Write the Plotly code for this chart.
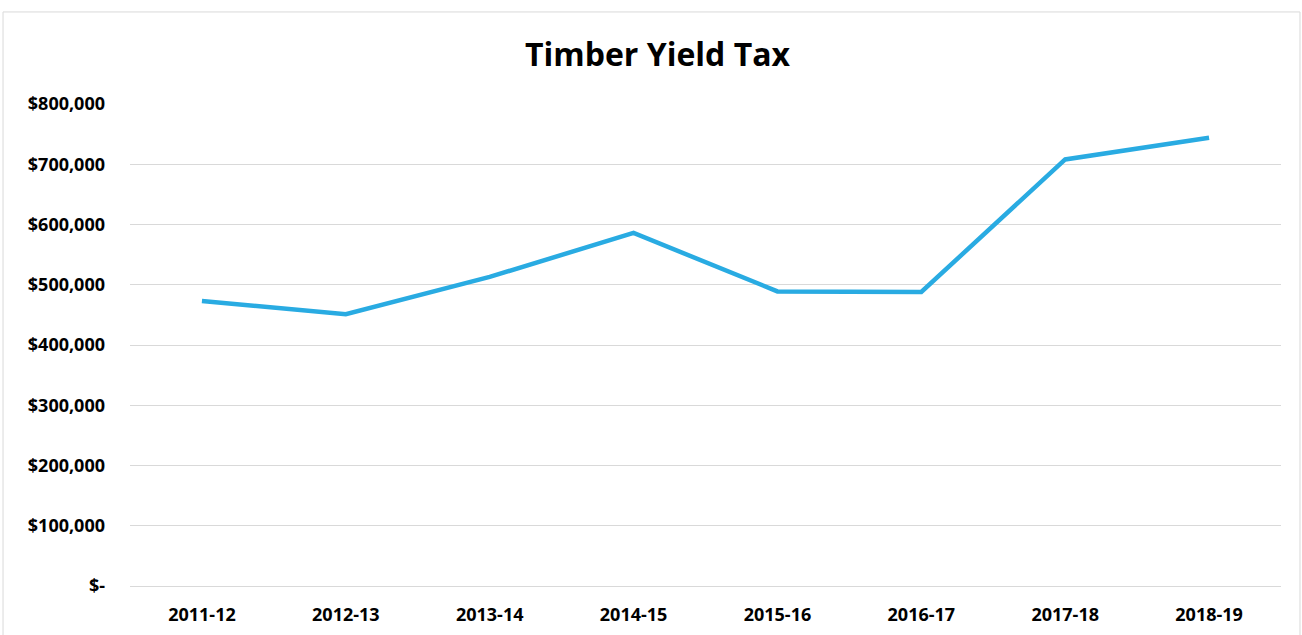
import plotly.graph_objects as go

years = ['2011-12', '2012-13', '2013-14', '2014-15', '2015-16', '2016-17', '2017-18', '2018-19']
tax = [473000, 451000, 513000, 586000, 489000, 488000, 708000, 744000]

y_ticks = [0, 100000, 200000, 300000, 400000, 500000, 600000, 700000, 800000]
y_labels = ['$-', '$100,000', '$200,000', '$300,000', '$400,000',
            '$500,000', '$600,000', '$700,000', '$800,000']

fig = go.Figure(go.Scatter(
    x=years,
    y=tax,
    mode='lines',
    line=dict(color='#29ABE2', width=4.5),
))

fig.update_layout(
    width=1302,
    height=635,
    margin=dict(l=130, r=21, t=104, b=49, autoexpand=False),
    paper_bgcolor='white',
    plot_bgcolor='white',
    showlegend=False,
    font=dict(family='Open Sans', size=18, color='black', weight='bold'),
    title=dict(
        text='Timber Yield Tax',
        x=0.505, xanchor='center',
        y=0.913, yanchor='middle',
        font=dict(family='Open Sans', size=32, color='black', weight='bold'),
    ),
    xaxis=dict(
        type='category',
        range=[-0.5, 7.5],
        showgrid=False,
        showline=True,
        linecolor='#d9d9d9',
        linewidth=1,
        ticks='',
        ticklabelstandoff=12,
    ),
    yaxis=dict(
        range=[0, 800000],
        tickvals=y_ticks,
        ticktext=y_labels,
        showgrid=True,
        gridcolor='#d9d9d9',
        gridwidth=1,
        zeroline=False,
        ticks='',
        ticklabelstandoff=24,
    ),
    shapes=[dict(
        type='rect', xref='paper', yref='paper',
        x0=-0.1103, x1=1.0165, y0=-0.12, y1=1.191,
        line=dict(color='#d9d9d9', width=1),
        fillcolor='rgba(0,0,0,0)',
        layer='below',
    )],
)

fig.write_html("out.html", config={'displayModeBar': False},
               post_script="document.body.style.margin='0px';")
